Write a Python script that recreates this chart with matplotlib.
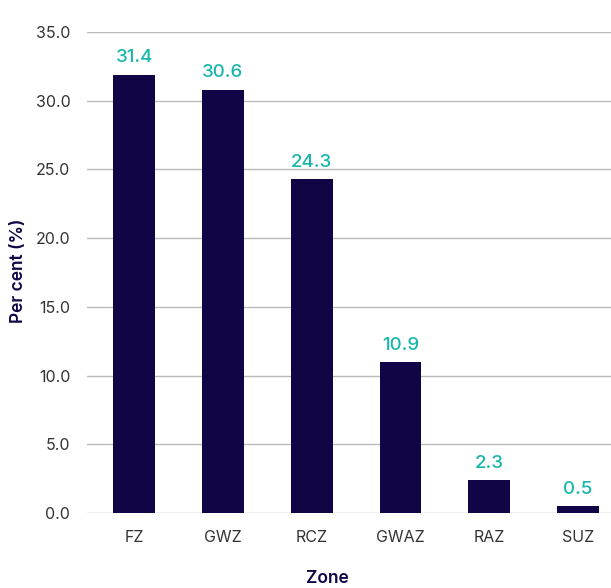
import matplotlib
matplotlib.use("Agg")
import matplotlib.pyplot as plt

zones = ["FZ", "GWZ", "RCZ", "GWAZ", "RAZ", "SUZ"]
bar_heights = [31.9, 30.8, 24.3, 11.0, 2.4, 0.5]
value_labels = [31.4, 30.6, 24.3, 10.9, 2.3, 0.5]
yticks = [0, 5, 10, 15, 20, 25, 30, 35]

plt.rcParams['font.family'] = ['Inter', 'DejaVu Sans']

fig = plt.figure(figsize=(6.11, 5.88), dpi=100)
ax = fig.add_axes([0.1424, 0.1276, 0.8576, 0.818])

x = list(range(len(zones)))
ax.bar(x, bar_heights, width=0.47, color="#110546", zorder=3)
for xi, h, v in zip(x, bar_heights, value_labels):
    ax.text(xi, h + 0.6, f"{v:.1f}", ha="center", va="bottom",
            fontsize=13.5, fontweight="medium", color="#17B6AB", zorder=4)

ax.set_ylim(0, 35)
ax.set_xlim(-0.53, 5.37)
ax.set_yticks(yticks)
ax.set_yticklabels([f"{t:.1f}" for t in yticks], fontsize=11.5, color="#333333")
ax.set_xticks(x)
ax.set_xticklabels(zones, fontsize=11.5, color="#333333")
ax.tick_params(axis="both", length=0)
ax.tick_params(axis="y", pad=12)
ax.tick_params(axis="x", pad=12)
ax.yaxis.grid(True, color="#BBBBBB", linewidth=1.0, zorder=0)
for s in ax.spines.values():
    s.set_visible(False)

fig.text(0.03, 0.54, "Per cent (%)", rotation=90, ha="center", va="center",
         fontsize=12.5, fontweight="semibold", color="#110546")
fig.text(0.535, 0.017, "Zone", ha="center", va="center",
         fontsize=12.5, fontweight="semibold", color="#110546")

fig.savefig("out.png", dpi=100)
